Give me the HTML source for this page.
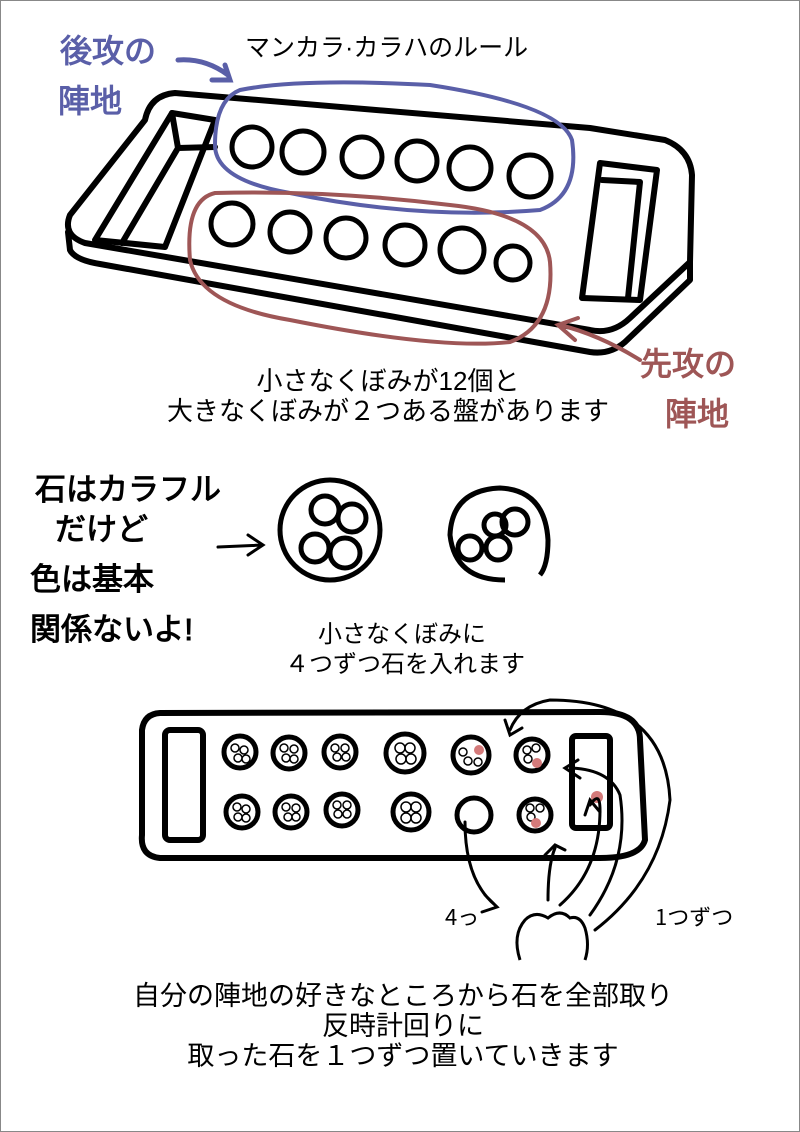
<!DOCTYPE html>
<html><head><meta charset="utf-8"><style>
html,body{margin:0;padding:0;background:#fff}
body{width:800px;height:1132px;overflow:hidden}
svg{display:block}
text{font-family:"Liberation Sans","Noto Sans CJK JP",sans-serif}
.h{font-family:"WenQuanYi Zen Hei","Noto Sans CJK JP",sans-serif}
</style></head><body>
<svg width="800" height="1132" viewBox="0 0 800 1132">
<rect x="0.5" y="0.5" width="799" height="1131" fill="#fff" stroke="#888" stroke-width="1"/>
<g fill="none" stroke="#000" stroke-width="6" stroke-linecap="round" stroke-linejoin="round">
<path d="M175,93 Q150,95 145,120 L70,215 Q62,235 85,243 L590,330 Q612,335 630,318 L690,262 L692,175 Q690,150 665,140 L590,128 L175,93Z"/>
<path d="M68,232 L70,250 Q75,260 100,264 L590,352 Q610,355 625,342 L690,280 L690,262"/>
<path d="M172,113 L215,120 L165,247 L95,240 Z"/>
<path d="M172,113 L178,148 L215,147 M178,148 L122,243"/>
<path d="M600,163 L657,170 L640,300 L582,298 Z"/>
<path d="M602,180 L640,182 L628,298"/>
</g>
<g fill="none" stroke="#000" stroke-width="5">
<circle cx="252" cy="147" r="20"/><circle cx="303" cy="152" r="21"/><circle cx="362" cy="157" r="20"/><circle cx="417" cy="161" r="20"/><circle cx="470" cy="168" r="21"/><circle cx="530" cy="176" r="21"/>
<circle cx="232" cy="224" r="21"/><circle cx="290" cy="232" r="20"/><circle cx="346" cy="238" r="20"/><circle cx="405" cy="245" r="20"/><circle cx="462" cy="250" r="22"/><circle cx="513" cy="263" r="17"/>
</g>
<path d="M240,90 Q300,78 430,85 Q560,105 572,140 Q580,195 540,210 Q420,220 290,193 Q215,180 215,145 Q215,100 240,90Z" fill="none" stroke="#5a5fa8" stroke-width="4"/>
<path d="M215,193 Q330,190 450,205 Q545,215 550,262 Q555,325 510,342 Q440,350 290,320 Q200,305 190,260 Q185,200 215,193Z" fill="none" stroke="#9e5656" stroke-width="4"/>
<path d="M178,60 Q205,58 228,75 M212,80 L230,80 L225,65" fill="none" stroke="#5a5fa8" stroke-width="5" stroke-linecap="round"/>
<path d="M640,360 Q600,335 560,325 M575,340 L558,325 L578,318" fill="none" stroke="#9e5656" stroke-width="4" stroke-linecap="round"/>
<text x="60" y="62" class="h" font-size="32" fill="#5a5fa8" stroke="#5a5fa8" stroke-width="1">後攻の</text>
<text x="58" y="112" class="h" font-size="32" fill="#5a5fa8" stroke="#5a5fa8" stroke-width="1">陣地</text>
<text x="640" y="375" class="h" font-size="32" fill="#9e5656" stroke="#9e5656" stroke-width="1">先攻の</text>
<text x="665" y="425" class="h" font-size="32" fill="#9e5656" stroke="#9e5656" stroke-width="1">陣地</text>
<text x="245" y="56" font-size="25">マンカラ·カラハのルール</text>
<text x="388" y="390" font-size="26" text-anchor="middle">小さなくぼみが12個と</text>
<text x="388" y="420" font-size="26" text-anchor="middle">大きなくぼみが２つある盤があります</text>
<!-- middle -->
<g class="h" font-size="31" fill="#000" stroke="#000" stroke-width="1">
<text x="35" y="500">石はカラフル</text>
<text x="55" y="540">だけど</text>
<text x="30" y="590">色は基本</text>
<text x="30" y="640">関係ないよ!</text>
</g>
<path d="M218,547 L262,545 M248,535 L263,545 L248,555" fill="none" stroke="#000" stroke-width="3" stroke-linecap="round"/>
<g fill="none" stroke="#000" stroke-width="5">
<circle cx="330" cy="530" r="50"/>
<circle cx="325" cy="510" r="14"/><circle cx="352" cy="518" r="14"/><circle cx="315" cy="548" r="14"/><circle cx="345" cy="553" r="15"/>
<path d="M505,580 Q455,580 450,535 Q452,490 500,488 Q545,490 548,540 Q548,565 540,575"/>
<circle cx="515" cy="522" r="13"/><circle cx="495" cy="525" r="11"/><circle cx="470" cy="548" r="12"/><circle cx="498" cy="548" r="12"/>
</g>
<text x="402" y="642" font-size="24" text-anchor="middle">小さなくぼみに</text>
<text x="405" y="672" font-size="24" text-anchor="middle">４つずつ石を入れます</text>
<!-- bottom board -->
<g fill="none" stroke="#000" stroke-width="6" stroke-linejoin="round">
<path d="M160,713 L600,712 Q640,712 640,740 L645,840 Q640,858 600,858 L160,858 Q140,856 142,835 L142,730 Q144,714 160,713Z"/>
<rect x="165" y="730" width="38" height="110" rx="5"/>
<rect x="572" y="736" width="38" height="92" rx="4"/>
</g>
<g stroke="#000" stroke-width="5" fill="#fff">
<circle cx="240" cy="752" r="16"/><circle cx="289" cy="753" r="16"/><circle cx="340" cy="752" r="16"/><circle cx="405" cy="753" r="19"/><circle cx="471" cy="755" r="18"/><circle cx="532" cy="755" r="16"/>
<circle cx="242" cy="812" r="16"/><circle cx="291" cy="812" r="16"/><circle cx="342" cy="810" r="16"/><circle cx="411" cy="812" r="18"/><circle cx="474" cy="815" r="17"/><circle cx="535" cy="815" r="16"/>
</g>
<g fill="none" stroke="#000" stroke-width="1.5">
<circle cx="235" cy="748" r="4"/><circle cx="244" cy="750" r="4"/><circle cx="238" cy="758" r="4"/><circle cx="246" cy="759" r="4"/>
<circle cx="284" cy="748" r="4"/><circle cx="294" cy="749" r="4"/><circle cx="286" cy="758" r="4"/><circle cx="294" cy="759" r="4"/>
<circle cx="335" cy="748" r="4"/><circle cx="345" cy="748" r="4"/><circle cx="337" cy="757" r="4"/><circle cx="346" cy="757" r="4"/>
<circle cx="400" cy="748" r="5"/><circle cx="410" cy="748" r="5"/><circle cx="401" cy="759" r="5"/><circle cx="411" cy="759" r="5"/>
<circle cx="463" cy="752" r="4"/><circle cx="468" cy="761" r="4"/><circle cx="478" cy="762" r="4"/>
<circle cx="527" cy="750" r="4"/><circle cx="536" cy="748" r="4"/><circle cx="528" cy="759" r="4"/>
<circle cx="237" cy="807" r="4"/><circle cx="246" cy="809" r="4"/><circle cx="238" cy="817" r="4"/><circle cx="246" cy="818" r="4"/>
<circle cx="286" cy="807" r="4"/><circle cx="296" cy="808" r="4"/><circle cx="288" cy="817" r="4"/><circle cx="296" cy="817" r="4"/>
<circle cx="337" cy="805" r="4"/><circle cx="347" cy="805" r="4"/><circle cx="338" cy="814" r="4"/><circle cx="347" cy="814" r="4"/>
<circle cx="406" cy="807" r="5"/><circle cx="416" cy="807" r="5"/><circle cx="406" cy="818" r="5"/><circle cx="416" cy="818" r="5"/>
<circle cx="530" cy="808" r="4"/><circle cx="540" cy="808" r="4"/><circle cx="531" cy="817" r="4"/>
</g>
<g fill="#d47a7a">
<circle cx="479" cy="750" r="5"/><circle cx="537" cy="763" r="5"/><circle cx="597" cy="797" r="6"/><circle cx="536" cy="823" r="5"/>
</g>
<!-- arrows -->
<g fill="none" stroke="#000" stroke-width="3" stroke-linecap="round">
<path d="M465,822 Q465,880 495,905 M485,895 L497,907 L482,912"/>
<path d="M548,900 Q548,865 555,848 M545,855 L555,845 L565,850"/>
<path d="M560,905 Q600,870 600,810 Q600,790 590,805 M585,815 L590,800 L600,812"/>
<path d="M590,915 Q630,860 620,795 Q610,770 572,768 M578,760 L565,768 L580,778"/>
<path d="M595,930 Q660,880 670,800 Q665,700 550,700 Q520,705 510,730 M505,720 L510,735 L522,728"/>
</g>
<path d="M520,960 Q512,935 525,920 Q535,910 548,918 Q560,908 570,918 Q580,915 585,928 Q590,945 585,960" fill="#fff" stroke="#000" stroke-width="3"/>
<text x="445" y="925" class="h" font-size="22">4っ</text>
<text x="655" y="925" class="h" font-size="22">1つずつ</text>
<text x="403" y="1005" font-size="27" text-anchor="middle">自分の陣地の好きなところから石を全部取り</text>
<text x="403" y="1035" font-size="27" text-anchor="middle">反時計回りに</text>
<text x="403" y="1065" font-size="27" text-anchor="middle">取った石を１つずつ置いていきます</text>
</svg>
</body></html>
